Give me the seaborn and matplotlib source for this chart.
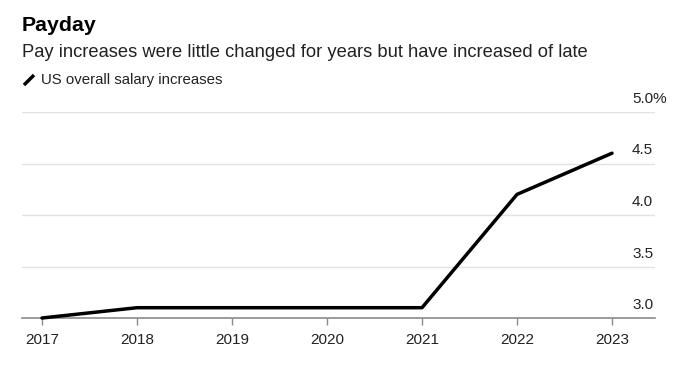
import matplotlib
matplotlib.use("Agg")
import matplotlib.pyplot as plt
import matplotlib.lines as mlines
import seaborn as sns
import pandas as pd

years = [2017, 2018, 2019, 2020, 2021, 2022, 2023]
salary_increase = [3.0, 3.1, 3.1, 3.1, 3.1, 4.2, 4.6]
y_ticks = [3.0, 3.5, 4.0, 4.5, 5.0]
y_tick_labels = ["3.0", "3.5", "4.0", "4.5", "5.0%"]
title = "Payday"
subtitle = "Pay increases were little changed for years but have increased of late"
series_name = "US overall salary increases"

sns.set_theme(style="white")
plt.rcParams["font.family"] = ["Liberation Sans", "DejaVu Sans"]

W, H = 684, 367
fig = plt.figure(figsize=(W / 100, H / 100), dpi=100)
ax = fig.add_axes([22 / W, 1 - 318 / H, (655 - 22) / W, (318 - 112) / H])

df = pd.DataFrame({"year": years, "value": salary_increase})
sns.lineplot(data=df, x="year", y="value", ax=ax, color="black", linewidth=2.5,
             clip_on=False, zorder=5)

ax.set_xlim(2017 - 20 / 95, 2023 + 43 / 95)
ax.set_ylim(3.0, 5.0)
ax.set_xticks(years)
ax.set_xticklabels([str(y) for y in years], fontsize=11, color="#222222")
ax.set_yticks([])
ax.set_xlabel("")
ax.set_ylabel("")
for s in ["top", "left", "right"]:
    ax.spines[s].set_visible(False)
ax.spines["bottom"].set_color("#8a8a8a")
ax.spines["bottom"].set_linewidth(1.2)
ax.tick_params(axis="x", length=5, width=1, color="#8a8a8a", pad=6, bottom=True)

for v, lab in zip(y_ticks, y_tick_labels):
    if v > 3.0:
        ax.axhline(v, color="#e2e2e2", linewidth=1, zorder=1)
    ax.annotate(lab, xy=(1.0, v), xycoords=("axes fraction", "data"),
                xytext=(-23, 6), textcoords="offset pixels",
                ha="left", va="bottom", fontsize=11, color="#222222",
                annotation_clip=False)

fig.text(22 / W, 1 - 16 / H, title, fontsize=15.3, fontweight="bold",
         ha="left", va="top", color="black")
fig.text(22 / W, 1 - 44 / H, subtitle, fontsize=13.2, ha="left", va="top",
         color="#222222")
icon = mlines.Line2D([24 / W, 34 / W], [1 - 85 / H, 1 - 75 / H],
                     transform=fig.transFigure, color="black", linewidth=2.5,
                     solid_capstyle="butt")
fig.add_artist(icon)
fig.text(41 / W, 1 - 73 / H, series_name, fontsize=10.8, ha="left", va="top",
         color="#222222")

fig.savefig("out.png", dpi=100, facecolor="white")
